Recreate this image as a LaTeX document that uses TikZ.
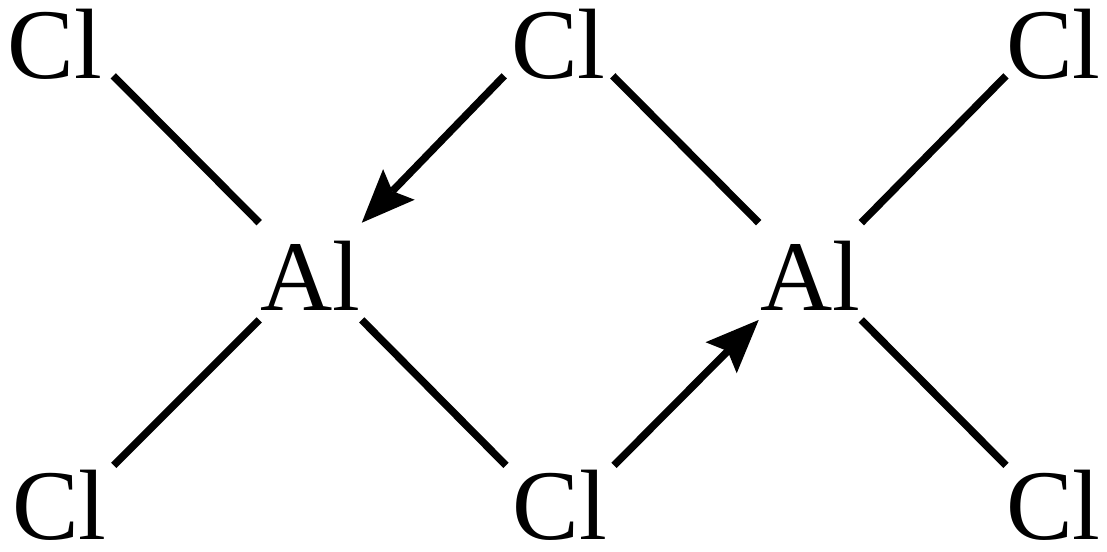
\documentclass[tikz,border=0pt]{standalone}
\usepackage{fontspec}
\setmainfont{Liberation Serif}
\usetikzlibrary{arrows.meta}
\begin{document}
\begin{tikzpicture}[x=0.75pt,y=-0.75pt]
\tikzstyle{every node}=[font=\fontsize{75}{75}\selectfont, inner sep=0pt, anchor=base]
\tikzstyle{topcl}=[text height=50pt, text depth=0pt, inner ysep=-2.6pt]
\tikzstyle{botcl}=[text height=55pt, text depth=0pt]
\tikzstyle{metal}=[text height=66pt, text depth=6.5pt, minimum width=76.5pt]
\tikzstyle{bond}=[line width=5.6pt]
\tikzstyle{dative}=[bond, -{Stealth[length=40pt,width=33pt,inset=7pt,line width=0pt]}]

  \useasboundingbox (0,0) rectangle (1107,552);

  \node[topcl, minimum width=87pt] (clA) at (55,79) {Cl};
  \node[topcl, minimum width=81pt] (clB) at (558.5,79) {Cl};
  \node[topcl] (clC) at (1053.5,79) {Cl};
  \node[metal] (alL) at (310.5,311) {Al};
  \node[metal] (alR) at (810,311) {Al};
  \node[botcl, minimum width=81pt] (clD) at (59.5,539) {Cl};
  \node[botcl, minimum width=80.6pt] (clE) at (560,539) {Cl};
  \node[botcl] (clF) at (1053.5,539) {Cl};

  \draw[bond] (clA.south east) -- (alL.north west);
  \draw[dative] (clB.south west) -- (alL.north east);
  \draw[bond] (clB.south east) -- (alR.north west);
  \draw[bond] (clC.south west) -- (alR.north east);
  \draw[bond] (alL.south west) -- (clD.north east);
  \draw[bond] (alL.south east) -- (clE.north west);
  \draw[dative] (clE.north east) -- (alR.south west);
  \draw[bond] (alR.south east) -- (clF.north west);

\end{tikzpicture}
\end{document}
